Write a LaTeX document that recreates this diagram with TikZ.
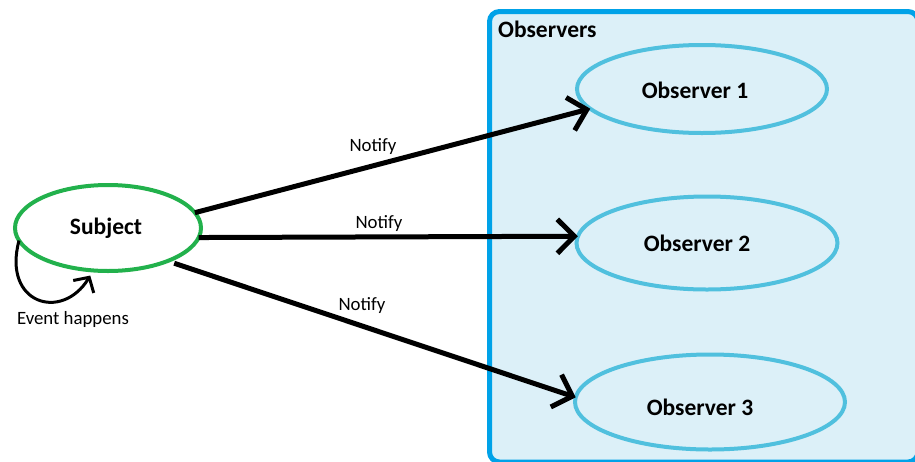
\documentclass[tikz,border=0pt]{standalone}
\usepackage{fontspec}
\setmainfont{Carlito}
\usetikzlibrary{shapes.geometric,arrows.meta}
\definecolor{subjgreen}{RGB}{34,177,76}
\definecolor{obsblue}{RGB}{80,192,222}
\definecolor{boxblue}{RGB}{0,162,232}
\definecolor{boxfill}{RGB}{220,240,248}
\tikzset{
  subjnode/.style={ellipse,draw=subjgreen,line width=4pt,inner sep=0pt,outer sep=0pt,
    minimum width=186pt,minimum height=86pt},
  obsnode/.style={ellipse,draw=obsblue,line width=4pt,inner sep=0pt,outer sep=0pt},
  boldtext/.style={font=\bfseries\fontsize{23.5}{26}\selectfont,inner sep=0pt},
  regtext/.style={font=\fontsize{18.8}{21}\selectfont,inner sep=0pt},
  notifyarrow/.style={line width=5pt,-{Straight Barb[length=17pt,width=34pt]}},
  looparrow/.style={line width=3pt,-{Straight Barb[length=11pt,width=24pt]}},
}
\begin{document}
\begin{tikzpicture}[x=1pt,y=1pt]
\useasboundingbox (0,0) rectangle (915,-461);
\fill[white] (0,0) rectangle (915,-461);
\begin{scope}
  \clip (0,0) rectangle (915,-461);
  \draw[draw=boxblue,fill=boxfill,line width=5pt,rounded corners=10pt]
    (489.5,-11.5) rectangle (918,-462);
\end{scope}
\node[boldtext,anchor=west] (obslabel) at (498,-29) {Observers};

\node[subjnode] (subj) at (108,-228) {};
\node[boldtext] (subjt) at (106,-228) {Subject};

\node[obsnode,minimum width=250pt,minimum height=88pt] (o1) at (702,-89) {};
\node[boldtext] (o1t) at (695,-90) {Observer 1};
\node[obsnode,minimum width=261pt,minimum height=93pt] (o2) at (707,-243) {};
\node[boldtext] (o2t) at (697,-243) {Observer 2};
\node[obsnode,minimum width=270pt,minimum height=95pt] (o3) at (710,-402) {};
\node[boldtext] (o3t) at (700,-407) {Observer 3};

\draw[notifyarrow] (subj.10.8) -- (o1.190);
\draw[notifyarrow] (subj.-6.2) -- (o2.177.8);
\draw[notifyarrow,shorten <=7pt] (subj.-29) -- (o3.178.7);

\node[regtext] (n1) at (373,-147) {Notify};
\node[regtext] (n2) at (379,-224) {Notify};
\node[regtext] (n3) at (362,-306) {Notify};

\draw[looparrow,shorten >=6pt] (subj.188.6) .. controls (2,-304) and (62,-322) .. (subj.251);
\node[regtext] (ev) at (73,-319) {Event happens};
\end{tikzpicture}
\end{document}
